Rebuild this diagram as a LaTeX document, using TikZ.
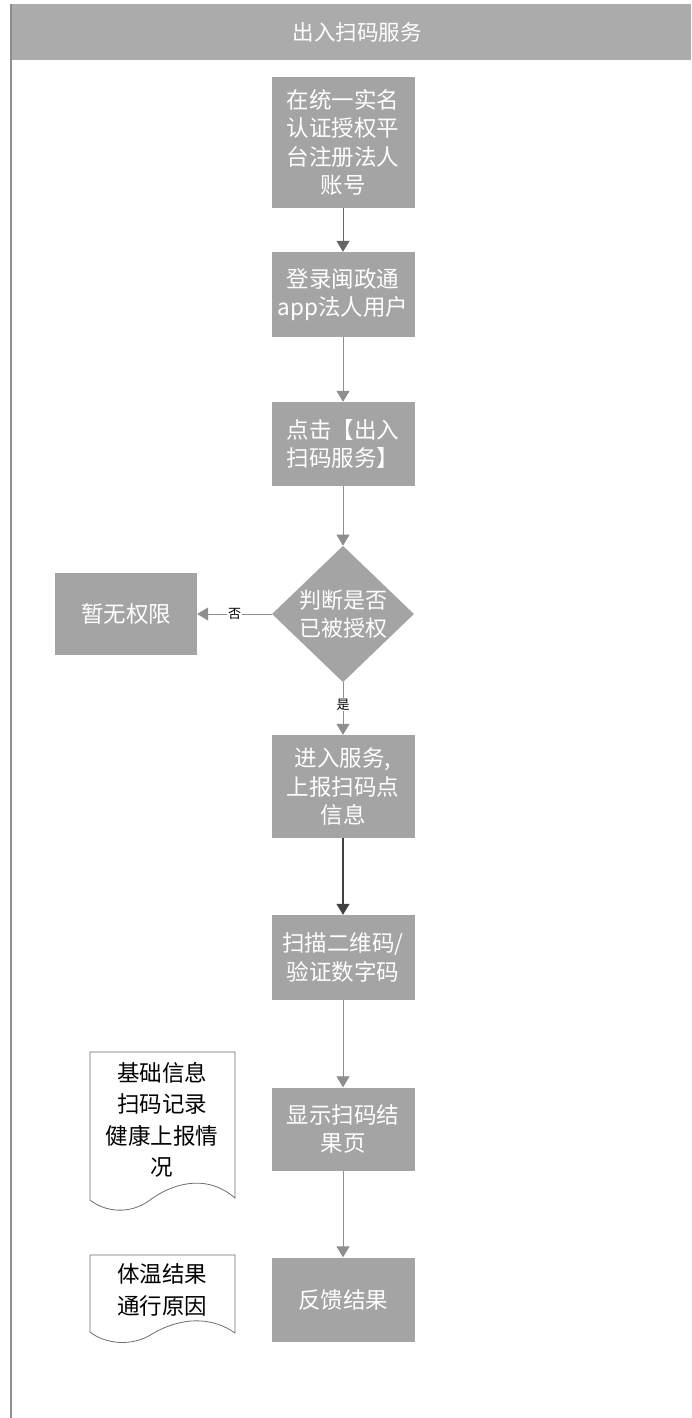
\documentclass[tikz,border=0pt]{standalone}
\usepackage{fontspec}
\setmainfont{Noto Sans CJK SC}
\usetikzlibrary{arrows.meta,shapes.geometric}
\definecolor{boxgray}{HTML}{A4A4A4}
\definecolor{headgray}{HTML}{ABABAB}
\definecolor{linegray}{HTML}{8E8E8E}
\definecolor{docline}{HTML}{6E6E6E}
\tikzset{
  stepbox/.style={rectangle, fill=boxgray, draw=none, text=white, minimum width=143pt,
    align=center, inner sep=0pt, font=\fontsize{22.5}{28.5}\selectfont},
  decide/.style={diamond, fill=boxgray, draw=none, text=white, minimum width=142pt,
    minimum height=95pt, inner sep=0pt, align=center, font=\fontsize{22}{28}\selectfont},
  flow/.style={draw=linegray, line width=1pt, -{Triangle[width=13pt,length=11pt]}},
  darkflow/.style={draw=black!75, line width=1.2pt, -{Triangle[width=13pt,length=11pt]}},
  lbl/.style={fill=white, inner sep=1pt, font=\fontsize{13}{15}\selectfont},
  doctext/.style={align=center, inner sep=0pt, font=\fontsize{22.5}{31.5}\selectfont},
  docshape/.style={draw=docline, line width=0.8pt, fill=white},
}
\begin{document}
\begin{tikzpicture}[x=1pt,y=-1pt]
\useasboundingbox (0,0) rectangle (691,1418);
\fill[white] (0,0) rectangle (691,1418);
% header and left border
\fill[headgray] (11,4) rectangle (691,60);
\node[text=white, font=\fontsize{21.5}{24}\selectfont] (title) at (357,32) {出入扫码服务};
\draw[draw=linegray, line width=1.2pt] (11,4) -- (11,1418);

% main flow
\node[stepbox, minimum height=131pt] (b1) at (343,142.5) {在统一实名\\认证授权平\\台注册法人\\账号};
\node[stepbox, minimum height=85pt] (b2) at (343,294.5) {登录闽政通\\app法人用户};
\node[stepbox, minimum height=84pt] (b3) at (343,444) {点击【出入\\扫码服务】};
\node[decide] (dia) at (343,614) {判断是否\\已被授权};
\node[stepbox, minimum width=142pt, minimum height=82pt] (no) at (126,614) {暂无权限};
\node[stepbox, minimum height=103pt] (b4) at (343,786.5) {进入服务,\\上报扫码点\\信息};
\node[stepbox, minimum height=85pt] (b5) at (343,957.5) {扫描二维码/\\验证数字码};
\node[stepbox, minimum height=83pt] (b6) at (343,1129) {显示扫码结\\果页};
\node[stepbox, minimum height=84pt] (b7) at (343,1299.5) {反馈结果};

\draw[flow, draw=black!60] (b1) -- (b2);
\draw[flow] (b2) -- (b3);
\draw[flow] (b3) -- (dia);
\draw[flow] (dia) -- node[lbl] {否} (no);
\draw[flow] (dia) -- node[lbl, pos=0.42] {是} (b4);
\draw[darkflow] (b4) -- (b5);
\draw[flow] (b5) -- (b6);
\draw[flow] (b6) -- (b7);

% document shapes
\draw[docshape] (90,1052) -- (235,1052) -- (235,1198)
  .. controls (205,1172) and (170,1185) .. (150,1200)
  .. controls (130,1215) and (105,1212) .. (90,1200) -- cycle;
\node[doctext] (d1) at (162,1120) {基础信息\\扫码记录\\健康上报情\\况};
\draw[docshape] (90,1255) -- (235,1255) -- (235,1333)
  .. controls (205,1312) and (172,1322) .. (152,1334)
  .. controls (132,1347) and (105,1344) .. (90,1332) -- cycle;
\node[doctext] (d2) at (162,1290) {体温结果\\通行原因};
\end{tikzpicture}
\end{document}
